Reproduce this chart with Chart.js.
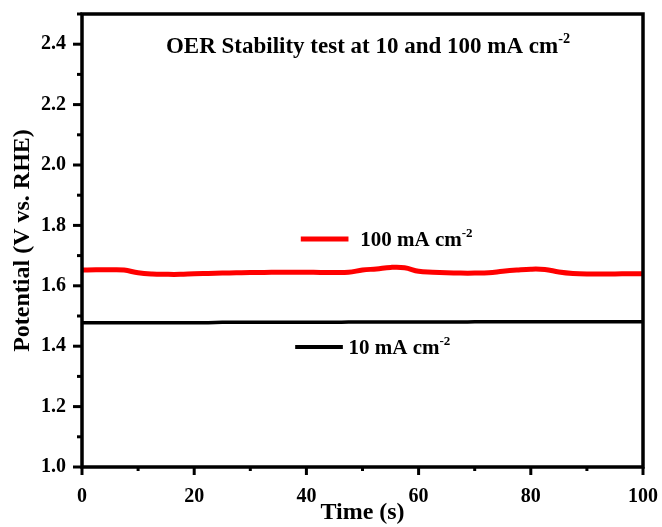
<!DOCTYPE html>
<html lang="en">
<head>
    <meta charset="UTF-8">
    <title>OER Stability test</title>
    <script src="https://cdn.jsdelivr.net/npm/chart.js"></script>
    <style>
        * { margin: 0; padding: 0; box-sizing: border-box; }
        body { background: #fff; width: 662px; height: 527px; overflow: hidden; }
        .chart-box { position: relative; width: 662px; height: 527px; }
    </style>
</head>
<body>
    <div class="chart-box">
        <canvas id="stabilityChart"></canvas>
    </div>
    <script>
        // time axis (s)
        const timeS = [0, 2.5, 5, 7.5, 10, 12.5, 15, 17.5, 20, 22.5, 25, 27.5, 30, 32.5, 35, 37.5, 40,
            42.5, 45, 47.5, 50, 52.5, 55, 57.5, 60, 62.5, 65, 67.5, 70, 72.5, 75, 77.5, 80, 82.5,
            85, 87.5, 90, 92.5, 95, 97.5, 100];

        // potential at 100 mA cm-2 (V vs RHE)
        const pot100 = [1.652, 1.653, 1.653, 1.652, 1.643, 1.639, 1.638, 1.638, 1.640, 1.641, 1.642,
            1.643, 1.644, 1.644, 1.645, 1.645, 1.645, 1.644, 1.644, 1.645, 1.652, 1.656, 1.661, 1.660,
            1.648, 1.645, 1.643, 1.642, 1.642, 1.643, 1.648, 1.652, 1.655, 1.654, 1.646, 1.641, 1.639,
            1.639, 1.639, 1.640, 1.640];

        // potential at 10 mA cm-2 (V vs RHE)
        const pot10 = [1.478, 1.478, 1.478, 1.478, 1.478, 1.478, 1.478, 1.478, 1.478, 1.478, 1.479,
            1.479, 1.479, 1.479, 1.479, 1.479, 1.479, 1.479, 1.479, 1.480, 1.480, 1.480, 1.480, 1.480,
            1.480, 1.480, 1.480, 1.480, 1.481, 1.481, 1.481, 1.481, 1.481, 1.481, 1.481, 1.481, 1.481,
            1.481, 1.481, 1.481, 1.481];

        const xMajor = [0, 20, 40, 60, 80, 100];
        const yMajor = [1.0, 1.2, 1.4, 1.6, 1.8, 2.0, 2.2, 2.4];

        const SERIF = '"Liberation Serif", "Times New Roman", serif';

        // text with a superscript part, e.g. "cm" + "-2"
        function supText(ctx, parts, x, y, size) {
            let cx = x;
            parts.forEach(p => {
                const s = p.sup ? size * 0.62 : size;
                ctx.font = 'bold ' + s + 'px ' + SERIF;
                ctx.fillText(p.t, cx, p.sup ? y - size * 0.42 : y);
                cx += ctx.measureText(p.t).width;
            });
        }
        function supWidth(ctx, parts, size) {
            let w = 0;
            parts.forEach(p => {
                ctx.font = 'bold ' + (p.sup ? size * 0.62 : size) + 'px ' + SERIF;
                w += ctx.measureText(p.t).width;
            });
            return w;
        }

        const framePlugin = {
            id: 'frame',
            afterDraw(chart) {
                const ctx = chart.ctx;
                const a = chart.chartArea;
                const xs = chart.scales.x, ys = chart.scales.y;
                ctx.save();
                ctx.strokeStyle = '#000';
                ctx.fillStyle = '#000';

                // ticks (major + minor), outward
                ctx.lineWidth = 3;
                for (let v = 0; v <= 100; v += 10) {
                    const px = xs.getPixelForValue(v);
                    const len = v % 20 === 0 ? 8 : 4;
                    ctx.beginPath();
                    ctx.moveTo(px, a.bottom);
                    ctx.lineTo(px, a.bottom + len);
                    ctx.stroke();
                }
                for (let i = 0; i <= 15; i++) {
                    const v = 1.0 + i * 0.1;
                    const py = ys.getPixelForValue(v);
                    const len = i % 2 === 0 ? 9 : 5;
                    ctx.beginPath();
                    ctx.moveTo(a.left, py);
                    ctx.lineTo(a.left - len, py);
                    ctx.stroke();
                }

                // frame
                ctx.lineWidth = 3.5;
                ctx.strokeRect(a.left, a.top, a.right - a.left, a.bottom - a.top);

                // title
                ctx.textBaseline = 'alphabetic';
                const titleParts = [{ t: 'OER Stability test at 10 and 100 mA cm' }, { t: '-2', sup: true }];
                const tw = supWidth(ctx, titleParts, 23);
                supText(ctx, titleParts, 368 - tw / 2, 53, 23);

                // legend-like labels next to curves
                ctx.lineWidth = 5;
                ctx.strokeStyle = '#ff0000';
                let ly = ys.getPixelForValue(1.755);
                ctx.beginPath();
                ctx.moveTo(xs.getPixelForValue(39), ly);
                ctx.lineTo(xs.getPixelForValue(47.5), ly);
                ctx.stroke();
                supText(ctx, [{ t: '100 mA cm' }, { t: '-2', sup: true }], xs.getPixelForValue(49.6), ly + 7, 21);

                ctx.lineWidth = 4;
                ctx.strokeStyle = '#000';
                ly = ys.getPixelForValue(1.397);
                ctx.beginPath();
                ctx.moveTo(xs.getPixelForValue(38), ly);
                ctx.lineTo(xs.getPixelForValue(46.5), ly);
                ctx.stroke();
                supText(ctx, [{ t: '10 mA cm' }, { t: '-2', sup: true }], xs.getPixelForValue(47.5), ly + 7, 21);

                ctx.restore();
            }
        };

        window.onload = function() {
            const ctx = document.getElementById('stabilityChart').getContext('2d');
            new Chart(ctx, {
                type: 'line',
                data: {
                    labels: timeS,
                    datasets: [{
                        label: '100 mA cm-2',
                        data: pot100,
                        borderColor: '#ff0000',
                        borderWidth: 5,
                        pointRadius: 0,
                        tension: 0.4
                    }, {
                        label: '10 mA cm-2',
                        data: pot10,
                        borderColor: '#000000',
                        borderWidth: 3.5,
                        pointRadius: 0,
                        tension: 0.4
                    }]
                },
                options: {
                    responsive: true,
                    maintainAspectRatio: false,
                    animation: false,
                    layout: { autoPadding: false, padding: { top: 14, right: 19, left: 0, bottom: 0 } },
                    plugins: {
                        legend: { display: false },
                        tooltip: { enabled: false }
                    },
                    scales: {
                        x: {
                            type: 'linear',
                            min: 0,
                            max: 100,
                            border: { display: false },
                            grid: { display: false },
                            afterFit: s => { s.height = 60; s.paddingLeft = 0; s.paddingRight = 0; },
                            afterBuildTicks: s => { s.ticks = xMajor.map(v => ({ value: v })); },
                            ticks: {
                                color: '#000',
                                padding: 10,
                                maxRotation: 0,
                                font: { family: SERIF, size: 20, weight: 'bold' }
                            },
                            title: {
                                display: true,
                                text: 'Time (s)',
                                color: '#000',
                                padding: { top: 0, bottom: 0 },
                                font: { family: SERIF, size: 24, weight: 'bold' }
                            }
                        },
                        y: {
                            min: 1.0,
                            max: 2.5,
                            border: { display: false },
                            grid: { display: false },
                            afterFit: s => { s.width = 82; s.paddingTop = 0; s.paddingBottom = 0; },
                            afterBuildTicks: s => { s.ticks = yMajor.map(v => ({ value: v })); },
                            ticks: {
                                color: '#000',
                                padding: 8,
                                font: { family: SERIF, size: 20, weight: 'bold' },
                                callback: v => v.toFixed(1)
                            },
                            title: {
                                display: true,
                                text: 'Potential (V vs. RHE)',
                                color: '#000',
                                padding: { top: 8, bottom: 0 },
                                font: { family: SERIF, size: 24, weight: 'bold' }
                            }
                        }
                    }
                },
                plugins: [framePlugin]
            });
        };
    </script>
</body>
</html>
